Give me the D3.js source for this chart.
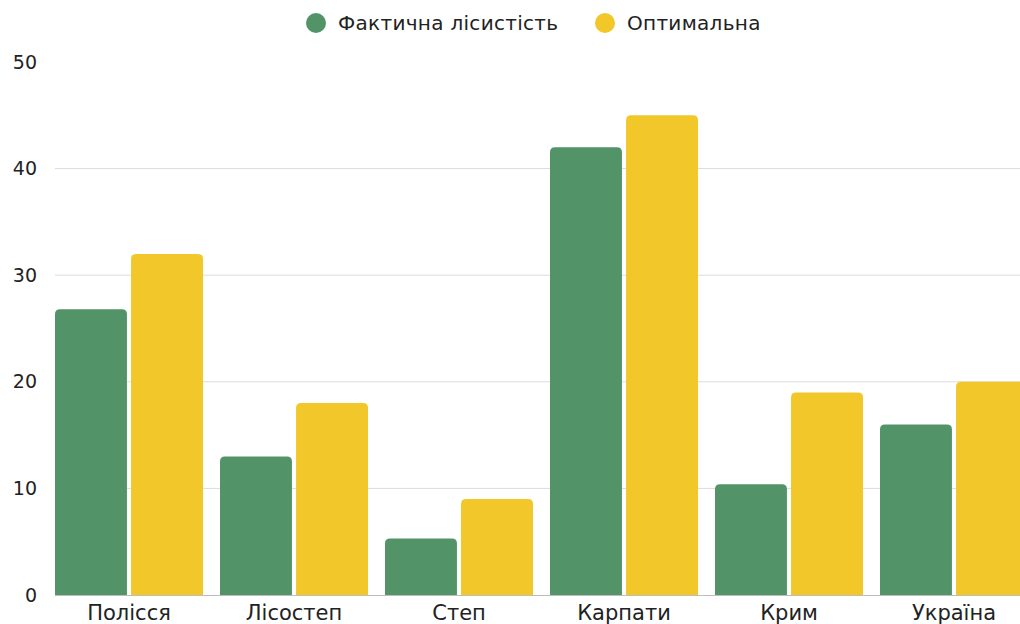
<!DOCTYPE html>
<head>
  <meta charset="utf-8">
  <title>Лісистість</title>
  <script src="https://d3js.org/d3.v7.min.js"></script>
  <style>
    body { margin: 0; background: #fff; }
    text { font-family: "DejaVu Sans", "Open Sans", sans-serif; fill: #222; }
  </style>
</head>
<body>
  <div id="chart"></div>
  <script>
    // дані
    var regions = ['Полісся', 'Лісостеп', 'Степ', 'Карпати', 'Крим', 'Україна'];
    var seriesNames = ['Фактична лісистість', 'Оптимальна'];
    var actual = [26.8, 13, 5.3, 42, 10.4, 16];
    var optimal = [32, 18, 9, 45, 19, 20];
    var yTicks = [0, 10, 20, 30, 40, 50];

    var colors = ['#529467', '#f2c72a'];

    var width = 1020, height = 624;
    var margin = { left: 55, top: 62, bottom: 29 };
    var plotBottom = height - margin.bottom;

    var rows = regions.map(function (r, i) {
      return { region: r, values: [actual[i], optimal[i]] };
    });

    var svg = d3.select('#chart').append('svg')
      .attr('width', width)
      .attr('height', height);

    var x0 = d3.scaleBand()
      .domain(regions)
      .range([margin.left, 1028])
      .paddingInner(0.103)
      .paddingOuter(0);

    var x1 = d3.scaleBand()
      .domain([0, 1])
      .range([0, x0.bandwidth()])
      .paddingInner(0.054);

    var y = d3.scaleLinear()
      .domain([0, 50])
      .range([plotBottom, margin.top]);

    // сітка
    svg.append('g')
      .selectAll('line')
      .data(yTicks.filter(function (d) { return d > 0 && d < 50; }))
      .enter().append('line')
        .attr('x1', margin.left)
        .attr('x2', width)
        .attr('y1', function (d) { return y(d); })
        .attr('y2', function (d) { return y(d); })
        .attr('stroke', '#dcdcdc')
        .attr('stroke-width', 1);

    // вісь Y
    var yAxis = svg.append('g')
      .attr('transform', 'translate(37,0)')
      .call(d3.axisLeft(y).tickValues(yTicks).tickSize(0).tickPadding(0));
    yAxis.select('.domain').remove();
    yAxis.selectAll('text')
      .style('font-size', '19px')
      .attr('fill', '#222');

    // стовпці з заокругленими верхніми кутами
    function barPath(x, yTop, w, h, r) {
      r = Math.min(r, h);
      return 'M' + x + ',' + (yTop + h) +
        'V' + (yTop + r) +
        'Q' + x + ',' + yTop + ' ' + (x + r) + ',' + yTop +
        'H' + (x + w - r) +
        'Q' + (x + w) + ',' + yTop + ' ' + (x + w) + ',' + (yTop + r) +
        'V' + (yTop + h) + 'Z';
    }

    var groups = svg.append('g')
      .selectAll('g')
      .data(rows)
      .enter().append('g')
        .attr('transform', function (d) { return 'translate(' + x0(d.region) + ',0)'; });

    groups.selectAll('path')
      .data(function (d) { return d.values.map(function (v, i) { return { i: i, v: v }; }); })
      .enter().append('path')
        .attr('d', function (d) {
          return barPath(x1(d.i), y(d.v), x1.bandwidth(), plotBottom - y(d.v), 5);
        })
        .attr('fill', function (d) { return colors[d.i]; });

    // базова лінія
    svg.append('line')
      .attr('x1', margin.left)
      .attr('x2', width)
      .attr('y1', plotBottom + 0.5)
      .attr('y2', plotBottom + 0.5)
      .attr('stroke', '#bdbdbd');

    // вісь X
    var xAxis = svg.append('g')
      .attr('transform', 'translate(0,' + (plotBottom + 10) + ')')
      .call(d3.axisBottom(x0).tickSize(0).tickPadding(0));
    xAxis.select('.domain').remove();
    xAxis.selectAll('text')
      .style('font-size', '21px')
      .attr('fill', '#222');

    // легенда
    var legendPos = [316, 605];
    var legend = svg.append('g')
      .selectAll('g')
      .data(seriesNames)
      .enter().append('g')
        .attr('transform', function (d, i) { return 'translate(' + legendPos[i] + ',23)'; });
    legend.append('circle')
      .attr('r', 10)
      .attr('fill', function (d, i) { return colors[i]; });
    legend.append('text')
      .attr('x', 22)
      .attr('dy', '0.35em')
      .style('font-size', '20px')
      .style('letter-spacing', '0.3px')
      .text(function (d) { return d; });
  </script>
</body>
